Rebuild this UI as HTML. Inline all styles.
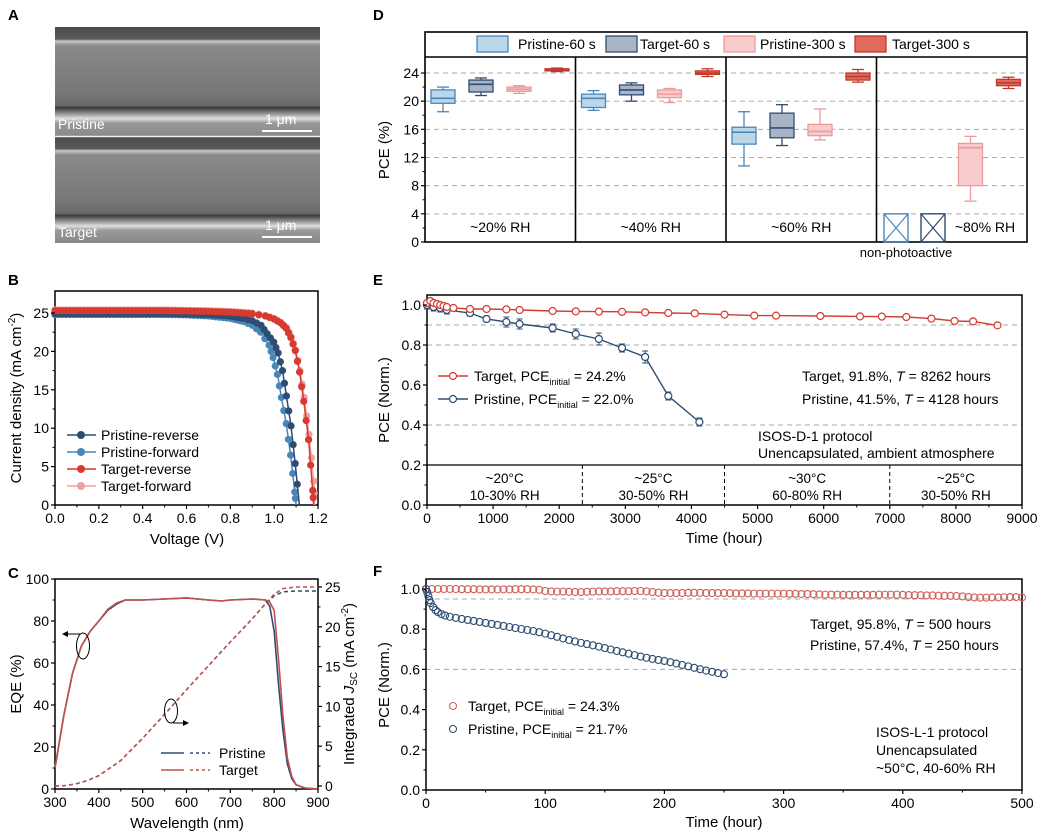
<!DOCTYPE html>
<html><head><meta charset="utf-8">
<style>
body{margin:0;background:#fff;}
svg{display:block;font-family:"Liberation Sans",Arial,sans-serif;}
</style></head>
<body>
<svg id="fig" width="1045" height="837" viewBox="0 0 1045 837" xmlns="http://www.w3.org/2000/svg">
<defs>
<linearGradient id="semT" x1="0" y1="0" x2="0" y2="1">
<stop offset="0" stop-color="#4a4a4a"/><stop offset="0.11" stop-color="#5a5a5a"/><stop offset="0.13" stop-color="#c8c8c8"/><stop offset="0.17" stop-color="#8a8a8a"/><stop offset="0.6" stop-color="#777"/><stop offset="0.72" stop-color="#6a6a6a"/><stop offset="0.74" stop-color="#3a3a3a"/><stop offset="0.8" stop-color="#9a9a9a"/><stop offset="0.84" stop-color="#e0e0e0"/><stop offset="0.88" stop-color="#9a9a9a"/><stop offset="1" stop-color="#888"/>
</linearGradient>
</defs>
<g id="panelA">
<text x="8" y="20" font-size="15" font-weight="bold">A</text>
<rect x="55" y="27" width="265" height="109" fill="url(#semT)"/>
<rect x="55" y="137" width="265" height="106" fill="url(#semT)"/>
<line x1="55" y1="136.5" x2="320" y2="136.5" stroke="#eee" stroke-width="1.5"/>
<text x="58" y="129" font-size="14" fill="#fff">Pristine</text>
<text x="265" y="124" font-size="14" fill="#fff">1 μm</text>
<line x1="262" y1="131" x2="312" y2="131" stroke="#fff" stroke-width="2"/>
<text x="58" y="237" font-size="14" fill="#fff">Target</text>
<text x="265" y="230" font-size="14" fill="#fff">1 μm</text>
<line x1="262" y1="237" x2="312" y2="237" stroke="#fff" stroke-width="2"/>
</g>
<g id="panelB"></g><g id="panelC"></g><g id="panelD"></g><g id="panelE"></g><g id="panelF"></g>
</svg>
<script>
// ---------- Panel B data ----------
const jvPRv = [0,0.1,0.2,0.3,0.4,0.5,0.6,0.7,0.8,0.86,0.9,0.94,0.968,0.998,1.018,1.038,1.056,1.077,1.096,1.115];
const jvPRj = [24.9,24.9,24.9,24.9,24.9,24.9,24.85,24.8,24.6,24.3,24.0,23.4,22.3,21.2,19.8,17.5,14.2,10.3,5.4,0];
const jvPFv = [0,0.1,0.2,0.3,0.4,0.5,0.6,0.7,0.8,0.86,0.9,0.938,0.977,0.995,1.015,1.033,1.055,1.075,1.094,1.10];
const jvPFj = [24.8,24.8,24.8,24.8,24.8,24.8,24.75,24.6,24.3,23.9,23.4,22.5,20.8,19.2,17.0,14.0,10.6,6.5,1.7,0];
const jvTRv = [0,0.1,0.2,0.3,0.4,0.5,0.6,0.7,0.8,0.9,0.96,1.0,1.03,1.055,1.076,1.096,1.116,1.135,1.157,1.176,1.18];
const jvTRj = [25.3,25.3,25.3,25.3,25.3,25.3,25.25,25.2,25.1,24.9,24.6,24.2,23.7,23.0,21.8,20.1,17.3,13.5,8.5,1.9,0];
const jvTFv = [0,0.1,0.2,0.3,0.4,0.5,0.6,0.7,0.8,0.9,0.96,1.0,1.03,1.057,1.078,1.098,1.118,1.137,1.159,1.181,1.185];
const jvTFj = [25.4,25.4,25.4,25.4,25.4,25.4,25.35,25.3,25.2,25.0,24.7,24.3,23.8,23.1,21.9,20.2,17.5,14.0,9.2,3.1,0];
const bXTicks = [0,0.2,0.4,0.6,0.8,1.0,1.2];
const bYTicks = [0,5,10,15,20,25];
// ---------- Panel C data ----------
const wlP = [300,320,340,360,380,400,420,440,460,500,550,600,650,680,700,750,780,790,800,810,820,830,840,850,870,900];
const eqeP = [10,35,55,68,75,80,85,88,90,90,90.5,91,90,89.5,90,90.5,90,87,75,50,28,12,5,2,0.5,0];
const wlT = [300,320,340,360,380,400,420,440,460,500,550,600,650,680,700,750,780,790,800,810,820,830,840,850,870,900];
const eqeT = [10,35,55,68,75,80,85.5,88.5,90,90,90.5,91,90,89.5,90,90.5,90,89,85,62,35,15,6,2,0.5,0];
const wlJ = [300,325,350,375,400,450,500,550,600,650,700,750,780,800,820,850,900];
const jscP = [0,0.05,0.3,0.7,1.3,3.2,6.0,9.0,12.1,15.1,18.1,21.0,22.9,23.9,24.4,24.5,24.5];
const jscT = [0,0.05,0.3,0.7,1.3,3.2,6.0,9.0,12.1,15.1,18.1,21.0,22.9,24.1,24.8,25.0,25.0];
const cXTicks = [300,400,500,600,700,800,900];
const cYTicks = [0,20,40,60,80,100];
const cY2Ticks = [0,5,10,15,20,25];
// ---------- Panel D data ----------
const dGroups = ["~20% RH","~40% RH","~60% RH","~80% RH"];
const dSeries = ["Pristine-60 s","Target-60 s","Pristine-300 s","Target-300 s"];
const dP60 = [[18.5,19.7,20.4,21.6,22.0],[18.7,19.1,20.4,21.0,21.5],[10.8,13.9,15.6,16.3,18.5],null];
const dT60 = [[20.8,21.3,22.4,23.0,23.3],[20.0,20.9,21.6,22.3,22.6],[13.7,14.8,16.2,18.3,19.5],null];
const dP300 = [[21.1,21.4,21.7,22.0,22.2],[19.8,20.5,21.0,21.6,21.8],[14.5,15.1,15.7,16.7,18.9],[5.8,8.0,13.4,14.0,15.0]];
const dT300 = [[24.2,24.3,24.4,24.6,24.7],[23.5,23.8,24.0,24.3,24.6],[22.7,23.0,23.5,24.0,24.5],[21.8,22.2,22.6,23.1,23.4]];
const dYTicks = [0,4,8,12,16,20,24];
// ---------- Panel E data ----------
const eTt = [0,50,100,150,200,250,300,400,650,900,1200,1400,1900,2250,2600,2950,3300,3650,4050,4500,4950,5280,5950,6550,6880,7250,7630,7980,8260,8630];
const eTv = [1.01,1.02,1.01,1.005,1.0,0.995,0.99,0.985,0.98,0.98,0.978,0.975,0.97,0.968,0.967,0.966,0.963,0.96,0.958,0.952,0.947,0.947,0.945,0.943,0.942,0.94,0.932,0.92,0.918,0.898];
const ePt = [0,100,200,300,650,900,1200,1400,1900,2250,2600,2950,3300,3650,4120];
const ePv = [1.0,0.99,0.985,0.975,0.96,0.93,0.915,0.905,0.885,0.855,0.83,0.785,0.74,0.545,0.415];
const ePe = [0.02,0.02,0.02,0.02,0.015,0.015,0.025,0.025,0.02,0.025,0.03,0.02,0.03,0.02,0.02];
const eXTicks = [0,1000,2000,3000,4000,5000,6000,7000,8000,9000];
const eYTicks = [0,0.2,0.4,0.6,0.8,1.0];
// ---------- Panel F data ----------
const fTv = [1.0,1.0,1.0,1.0,1.0,1.0,0.999,0.999,0.999,0.998,0.998,0.998,0.998,0.998,0.998,0.999,0.999,0.999,0.998,
0.996,0.99,0.988,0.987,0.987,0.986,0.985,0.985,0.986,0.987,
0.988,0.988,0.988,0.989,0.989,0.989,0.99,0.99,0.988,0.985,
0.982,0.98,0.98,0.98,0.98,0.981,0.981,0.981,0.98,0.98,
0.98,0.98,0.979,0.978,0.978,0.978,0.977,0.977,0.977,0.977,
0.977,0.977,0.976,0.976,0.975,0.975,0.974,0.973,0.972,0.972,
0.972,0.971,0.971,0.971,0.971,0.971,0.971,0.972,0.972,0.972,
0.972,0.971,0.97,0.969,0.969,0.968,0.968,0.967,0.966,0.966,
0.965,0.963,0.96,0.958,0.957,0.957,0.958,0.958,0.959,0.96,
0.96,0.958];
const fPt = [0,1,2,3,4,6,8,10,13,16,20,25,30,35,40,45,50,55,60,65,70,75,80,85,90,95,100,105,110,115,120,125,130,135,140,145,150,155,160,165,170,175,180,185,190,195,200,205,210,215,220,225,230,235,240,245,250];
const fPv = [1.0,0.985,0.965,0.945,0.93,0.91,0.895,0.885,0.875,0.868,
0.862,0.856,0.851,0.846,0.841,0.836,0.831,0.826,0.821,0.816,0.811,0.806,0.801,0.796,0.791,
0.785,0.778,0.77,0.762,0.754,0.746,0.739,0.732,0.726,0.72,0.713,0.706,0.699,0.692,0.685,
0.678,0.671,0.664,0.658,0.652,0.647,0.642,0.636,0.629,0.622,0.615,0.608,0.601,0.594,0.588,0.582,0.576];
const fXTicks = [0,100,200,300,400,500];
const fYTicks = [0,0.2,0.4,0.6,0.8,1.0];

const NS = "http://www.w3.org/2000/svg";
function mk(parent, tag, attrs, txt){
  const e = document.createElementNS(NS, tag);
  for (const k in attrs) e.setAttribute(k, attrs[k]);
  if (txt !== undefined) e.textContent = txt;
  parent.appendChild(e);
  return e;
}
function lin(d0,d1,r0,r1){ return v => r0 + (v-d0)/(d1-d0)*(r1-r0); }
function axesBox(g,x0,x1,yTop,yBot){
  const r = mk(g,'rect',{x:x0,y:yTop,width:x1-x0,height:yBot-yTop,fill:'none',stroke:'#000','stroke-width':1.5});
  
  
}
function xTicks(g,ticks,sx,yBot,fmt,name){
  ticks.forEach((t,i)=>{
    mk(g,'line',{x1:sx(t),x2:sx(t),y1:yBot,y2:yBot+4,stroke:'#000','stroke-width':1.2});
    if(i<ticks.length-1){const m=(sx(t)+sx(ticks[i+1]))/2; mk(g,'line',{x1:m,x2:m,y1:yBot,y2:yBot+2.5,stroke:'#000'});}
    const tx = mk(g,'text',{x:sx(t),y:yBot+18,'font-size':14,'text-anchor':'middle'},fmt(t));
    
    
  });
}
function yTicks(g,ticks,sy,xL,fmt,name,right){
  ticks.forEach((t,i)=>{
    mk(g,'line',{x1:xL,x2:right?xL+4:xL-4,y1:sy(t),y2:sy(t),stroke:'#000','stroke-width':1.2});
    if(i<ticks.length-1){const m=(sy(t)+sy(ticks[i+1]))/2; mk(g,'line',{x1:xL,x2:right?xL+2.5:xL-2.5,y1:m,y2:m,stroke:'#000'});}
    const tx = mk(g,'text',{x:right?xL+7:xL-6,y:sy(t)+5,'font-size':14,'text-anchor':right?'start':'end'},fmt(t));
    
    
  });
}
function title(g,x,y,txt,name,rot){
  const t = mk(g,'text',{x:x,y:y,'font-size':15,'text-anchor':'middle',transform:rot?`rotate(-90 ${x} ${y})`:''});
  t.innerHTML = txt;
  
  
  return t;
}
function letter(g,x,y,L){
  const t = mk(g,'text',{x:x,y:y,'font-size':15,'font-weight':'bold'},L);
  
  
}
function path(xs,ys,sx,sy){ return xs.map((x,i)=>(i?'L':'M')+sx(x).toFixed(1)+' '+sy(ys[i]).toFixed(1)).join(' '); }

// ===== Panel B =====
(function(){
  const g = document.getElementById('panelB');
  
  
  letter(g,8,285,'B');
  const sx = lin(0,1.2,55,318), sy = lin(0,25,505,313);
  axesBox(g,55,318,291,505);
  const series = [[jvPFv,jvPFj,'#4a86b8','pristine-forward'],[jvPRv,jvPRj,'#2e4d73','pristine-reverse'],[jvTFv,jvTFj,'#f0a0a0','target-forward'],[jvTRv,jvTRj,'#d63a30','target-reverse']];
  series.forEach(s=>{
    const sg = mk(g,'g',{});
    
    
    mk(sg,'path',{d:path(s[0],s[1],sx,sy),fill:'none',stroke:s[2],'stroke-width':1.5});
    for(let i=0;i<s[0].length-1;i++){
      const n = s[0][i]<0.85?6:2;
      for(let k=0;k<n;k++){
        const v = s[0][i]+(s[0][i+1]-s[0][i])*k/n, j = s[1][i]+(s[1][i+1]-s[1][i])*k/n;
        const c = mk(sg,'circle',{cx:sx(v),cy:sy(j),r:3.6,fill:s[2]});
        
        
      }
    }
  });
  xTicks(g,bXTicks,sx,505,t=>t.toFixed(1),'b-x');
  yTicks(g,bYTicks,sy,55,t=>t,'b-y');
  title(g,187,544,'Voltage (V)','b-x-axis-title');
  title(g,21,398,'Current density (mA cm<tspan dy="-6" font-size="10">-2</tspan><tspan dy="6">)</tspan>','b-y-axis-title',true);
  const leg = [['Pristine-reverse','#2e4d73'],['Pristine-forward','#4a86b8'],['Target-reverse','#d63a30'],['Target-forward','#f0a0a0']];
  leg.forEach((l,i)=>{
    const y = 435+i*17;
    const lg = mk(g,'g',{});
    
    
    mk(lg,'line',{x1:67,x2:96,y1:y,y2:y,stroke:l[1],'stroke-width':1.5});
    mk(lg,'circle',{cx:81,cy:y,r:4,fill:l[1]});
    mk(lg,'text',{x:101,y:y+5,'font-size':14},l[0]);
  });
})();

// ===== Panel C =====
(function(){
  const g = document.getElementById('panelC');
  
  
  letter(g,8,578,'C');
  const sx = lin(300,900,55,318), sy = lin(0,100,789,579), sy2 = lin(0,25,786,587);
  axesBox(g,55,318,579,789);
  [[wlJ,jscP,'#2e4d73','pristine-jsc'],[wlJ,jscT,'#c0504d','target-jsc']].forEach(s=>{
    const p = mk(g,'path',{d:path(s[0],s[1],sx,sy2),fill:'none',stroke:s[2],'stroke-width':1.5,'stroke-dasharray':'4 3'});
    
    
  });
  [[wlP,eqeP,'#2e4d73','pristine-eqe'],[wlT,eqeT,'#c0504d','target-eqe']].forEach(s=>{
    const p = mk(g,'path',{d:path(s[0],s[1],sx,sy),fill:'none',stroke:s[2],'stroke-width':1.6});
    
    
  });
  xTicks(g,cXTicks,sx,789,t=>t,'c-x');
  yTicks(g,cYTicks,sy,55,t=>t,'c-y');
  yTicks(g,cY2Ticks,sy2,318,t=>t,'c-y2',true);
  title(g,187,828,'Wavelength (nm)','c-x-axis-title');
  title(g,21,684,'EQE (%)','c-y-axis-title',true);
  title(g,354,684,'Integrated <tspan font-style="italic">J</tspan><tspan font-size="10" dy="3">SC</tspan><tspan dy="-3"> (mA cm</tspan><tspan dy="-6" font-size="10">-2</tspan><tspan dy="6">)</tspan>','c-y2-axis-title',true);
  mk(g,'ellipse',{cx:83,cy:646,rx:6.5,ry:13,fill:'none',stroke:'#000'});
  mk(g,'line',{x1:80,x2:64,y1:634,y2:634,stroke:'#000'});
  mk(g,'path',{d:'M62 634 L68 631 L68 637 Z',fill:'#000'});
  mk(g,'ellipse',{cx:171,cy:711,rx:6.5,ry:12,fill:'none',stroke:'#000'});
  mk(g,'line',{x1:173,x2:187,y1:723,y2:723,stroke:'#000'});
  mk(g,'path',{d:'M189 723 L183 720 L183 726 Z',fill:'#000'});
  [['Pristine','#2e4d73',753],['Target','#c0504d',770]].forEach(l=>{
    const lg = mk(g,'g',{});
    
    
    mk(lg,'line',{x1:161,x2:184,y1:l[2],y2:l[2],stroke:l[1],'stroke-width':1.6});
    mk(lg,'line',{x1:190,x2:210,y1:l[2],y2:l[2],stroke:l[1],'stroke-width':1.5,'stroke-dasharray':'3 3'});
    mk(lg,'text',{x:219,y:l[2]+5,'font-size':14},l[0]);
  });
})();

// ===== Panel D =====
(function(){
  const g = document.getElementById('panelD');
  
  
  letter(g,373,20,'D');
  const sy = lin(0,24,242,73);
  const xL=425, xR=1027, gw=(xR-xL)/4;
  dYTicks.slice(1).forEach(t=>{ mk(g,'line',{x1:xL,x2:xR,y1:sy(t),y2:sy(t),stroke:'#aaa','stroke-dasharray':'5 4'}); });
  mk(g,'rect',{x:xL,y:32,width:xR-xL,height:210,fill:'none',stroke:'#000','stroke-width':1.6});
  mk(g,'line',{x1:xL,x2:xR,y1:57,y2:57,stroke:'#000','stroke-width':1.6});
  for(let i=1;i<4;i++) mk(g,'line',{x1:xL+gw*i,x2:xL+gw*i,y1:57,y2:242,stroke:'#000','stroke-width':1.6});
  const styles = [['#bcd6ea','#4a86b8'],['#a9b5c6','#2e4d73'],['#f8cccc','#ee9a9a'],['#e06b5c','#c0392b']];
  const data = [dP60,dT60,dP300,dT300];
  dGroups.forEach((gn,gi)=>{
    const gx = xL+gw*gi;
    data.forEach((ser,si)=>{
      const s = ser[gi];
      if(!s) return;
      const cx = gx+18+si*38, w=24;
      const bg = mk(g,'g',{});
      
      
      const st = styles[si];
      mk(bg,'line',{x1:cx,x2:cx,y1:sy(s[0]),y2:sy(s[4]),stroke:st[1],'stroke-width':1.3});
      mk(bg,'line',{x1:cx-6,x2:cx+6,y1:sy(s[0]),y2:sy(s[0]),stroke:st[1],'stroke-width':1.3});
      mk(bg,'line',{x1:cx-6,x2:cx+6,y1:sy(s[4]),y2:sy(s[4]),stroke:st[1],'stroke-width':1.3});
      mk(bg,'rect',{x:cx-w/2,y:sy(s[3]),width:w,height:sy(s[1])-sy(s[3]),fill:st[0],stroke:st[1],'stroke-width':1.3});
      mk(bg,'line',{x1:cx-w/2,x2:cx+w/2,y1:sy(s[2]),y2:sy(s[2]),stroke:st[1],'stroke-width':1.6});
    });
    const lbl = mk(g,'text',{x:gi<3?gx+gw/2:gx+gw-42,y:232,'font-size':14,'text-anchor':'middle'},gn);
    
    
  });
  // non-photoactive boxes
  [[896,'#4a86b8'],[933,'#2e4d73']].forEach(b=>{
    const ng = mk(g,'g',{});
    
    
    const x0=b[0]-12,x1=b[0]+12,y0=sy(4),y1=sy(0);
    mk(ng,'rect',{x:x0,y:y0,width:24,height:y1-y0,fill:'none',stroke:b[1],'stroke-width':1.4});
    mk(ng,'path',{d:`M${x0} ${y0} L${x1} ${y1} M${x1} ${y0} L${x0} ${y1}`,stroke:b[1],'stroke-width':1.2});
  });
  const np = mk(g,'text',{x:906,y:257,'font-size':13,'text-anchor':'middle'},'non-photoactive');
  
  
  dYTicks.forEach((t,i)=>{
    mk(g,'line',{x1:xL,x2:xL-4,y1:sy(t),y2:sy(t),stroke:'#000','stroke-width':1.2});
    if(i<dYTicks.length-1){const m=(sy(t)+sy(t+4))/2;mk(g,'line',{x1:xL,x2:xL-2.5,y1:m,y2:m,stroke:'#000'});}
    const tx = mk(g,'text',{x:xL-6,y:sy(t)+5,'font-size':14,'text-anchor':'end'},t);
    
    
  });
  title(g,389,150,'PCE (%)','d-y-axis-title',true);
  const lx = [[477,518],[606,640],[724,760],[855,892]];
  dSeries.forEach((s,i)=>{
    const lg = mk(g,'g',{});
    
    
    mk(lg,'rect',{x:lx[i][0],y:36,width:31,height:16,fill:styles[i][0],stroke:styles[i][1],'stroke-width':1.3});
    mk(lg,'text',{x:lx[i][1],y:49,'font-size':14},s);
  });
})();

// ===== Panel E =====
(function(){
  const g = document.getElementById('panelE');
  
  
  letter(g,373,285,'E');
  const sx = lin(0,9000,427,1022), sy = lin(0,1,505,305);
  [0.9,0.8,0.4].forEach(v=>mk(g,'line',{x1:427,x2:1022,y1:sy(v),y2:sy(v),stroke:'#aaa','stroke-dasharray':'5 4'}));
  axesBox(g,427,1022,295,505);
  mk(g,'line',{x1:427,x2:1022,y1:sy(0.2),y2:sy(0.2),stroke:'#000','stroke-width':1.3});
  [2350,4500,7000].forEach(t=>mk(g,'line',{x1:sx(t),x2:sx(t),y1:sy(0.2),y2:505,stroke:'#000','stroke-dasharray':'4 3'}));
  const bands=[[1175,'~20°C','10-30% RH'],[3425,'~25°C','30-50% RH'],[5750,'~30°C','60-80% RH'],[8000,'~25°C','30-50% RH']];
  bands.forEach(b=>{
    const t1 = mk(g,'text',{x:sx(b[0]),y:483,'font-size':13.5,'text-anchor':'middle'},b[1]);
    
    
    const t2 = mk(g,'text',{x:sx(b[0]),y:500,'font-size':13.5,'text-anchor':'middle'},b[2]);
    
    
  });
  const pg = mk(g,'g',{});
  
  
  mk(pg,'path',{d:path(ePt,ePv,sx,sy),fill:'none',stroke:'#2e4d73','stroke-width':1.4});
  ePt.forEach((t,i)=>{
    const x=sx(t),y1=sy(ePv[i]+ePe[i]),y2=sy(ePv[i]-ePe[i]);
    mk(pg,'path',{d:`M${x} ${y1} L${x} ${y2} M${x-3} ${y1} L${x+3} ${y1} M${x-3} ${y2} L${x+3} ${y2}`,stroke:'#2e4d73','stroke-width':1});
    const c = mk(pg,'circle',{cx:x,cy:sy(ePv[i]),r:3.5,fill:'#fff',stroke:'#2e4d73','stroke-width':1.2});
    
    
  });
  const tg = mk(g,'g',{});
  
  
  mk(tg,'path',{d:path(eTt,eTv,sx,sy),fill:'none',stroke:'#d63a30','stroke-width':1.4});
  eTt.forEach((t,i)=>{
    const c = mk(tg,'circle',{cx:sx(t),cy:sy(eTv[i]),r:3.5,fill:'#fff',stroke:'#d63a30','stroke-width':1.2});
    
    
  });
  xTicks(g,eXTicks,sx,505,t=>t,'e-x');
  yTicks(g,eYTicks,sy,427,t=>t.toFixed(1),'e-y');
  title(g,724,543,'Time (hour)','e-x-axis-title');
  title(g,389,400,'PCE (Norm.)','e-y-axis-title',true);
  [['Target, PCE<tspan font-size="9" dy="4">initial</tspan><tspan dy="-4"> = 24.2%</tspan>','#d63a30',376],['Pristine, PCE<tspan font-size="9" dy="4">initial</tspan><tspan dy="-4"> = 22.0%</tspan>','#2e4d73',399]].forEach(l=>{
    const lg = mk(g,'g',{});
    
    
    mk(lg,'line',{x1:438,x2:468,y1:l[2],y2:l[2],stroke:l[1],'stroke-width':1.4});
    mk(lg,'circle',{cx:453,cy:l[2],r:3.5,fill:'#fff',stroke:l[1],'stroke-width':1.2});
    const t = mk(lg,'text',{x:474,y:l[2]+5,'font-size':14});
    t.innerHTML = l[0];
  });
  const a1 = mk(g,'text',{x:802,y:381,'font-size':14}); a1.innerHTML='Target,  91.8%, <tspan font-style="italic">T</tspan> = 8262 hours';
   
  const a2 = mk(g,'text',{x:802,y:404,'font-size':14}); a2.innerHTML='Pristine, 41.5%, <tspan font-style="italic">T</tspan> = 4128 hours';
   
  const a3 = mk(g,'text',{x:758,y:441,'font-size':14},'ISOS-D-1 protocol');
   
  const a4 = mk(g,'text',{x:758,y:458,'font-size':14},'Unencapsulated, ambient atmosphere');
   
})();

// ===== Panel F =====
(function(){
  const g = document.getElementById('panelF');
  
  
  letter(g,373,576,'F');
  const sx = lin(0,500,426,1022), sy = lin(0,1,790,589);
  [0.95,0.6].forEach(v=>mk(g,'line',{x1:426,x2:1022,y1:sy(v),y2:sy(v),stroke:'#aaa','stroke-dasharray':'5 4'}));
  axesBox(g,426,1022,579,790);
  const tg = mk(g,'g',{});
  
  
  fTv.forEach((v,i)=>{
    const c = mk(tg,'circle',{cx:sx(i*5),cy:sy(v),r:3.5,fill:'none',stroke:'#d0605a','stroke-width':1.1});
    
    
  });
  const pg = mk(g,'g',{});
  
  
  fPt.forEach((t,i)=>{
    const c = mk(pg,'circle',{cx:sx(t),cy:sy(fPv[i]),r:3.5,fill:'none',stroke:'#2e4d73','stroke-width':1.1});
    
    
  });
  xTicks(g,fXTicks,sx,790,t=>t,'f-x');
  yTicks(g,fYTicks,sy,426,t=>t.toFixed(1),'f-y');
  title(g,724,827,'Time (hour)','f-x-axis-title');
  title(g,389,685,'PCE (Norm.)','f-y-axis-title',true);
  [['Target, PCE<tspan font-size="9" dy="4">initial</tspan><tspan dy="-4"> = 24.3%</tspan>','#d0605a',706],['Pristine, PCE<tspan font-size="9" dy="4">initial</tspan><tspan dy="-4"> = 21.7%</tspan>','#2e4d73',729]].forEach(l=>{
    const lg = mk(g,'g',{});
    
    
    mk(lg,'circle',{cx:453,cy:l[2],r:3.5,fill:'none',stroke:l[1],'stroke-width':1.1});
    const t = mk(lg,'text',{x:468,y:l[2]+5,'font-size':14});
    t.innerHTML = l[0];
  });
  const a1 = mk(g,'text',{x:810,y:629,'font-size':14}); a1.innerHTML='Target,  95.8%, <tspan font-style="italic">T</tspan> = 500 hours';
   
  const a2 = mk(g,'text',{x:810,y:650,'font-size':14}); a2.innerHTML='Pristine, 57.4%, <tspan font-style="italic">T</tspan> = 250 hours';
   
  ['ISOS-L-1 protocol','Unencapsulated','~50°C, 40-60% RH'].forEach((s,i)=>{
    const a = mk(g,'text',{x:876,y:737+i*18,'font-size':14},s);
    
    
  });
})();
</script>
</body></html>
